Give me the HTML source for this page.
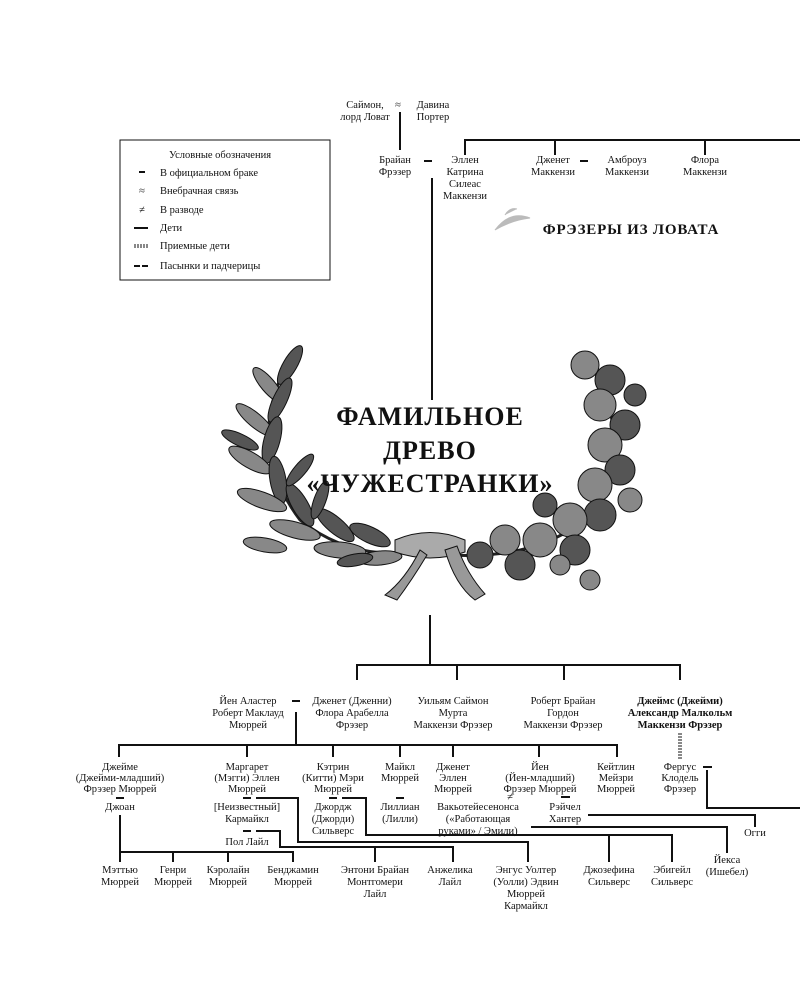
<!DOCTYPE html>
<html><head><meta charset="utf-8"><style>
html,body{margin:0;padding:0;background:#fff}
svg{display:block}
text{font-family:"Liberation Serif",serif;font-size:10.5px;fill:#111;text-anchor:middle}
.l{text-anchor:start}
.b{font-weight:bold}
.ln{stroke:#111;stroke-width:2;fill:none}
.lf{fill:#555;stroke:#111;stroke-width:1}
.lf2{fill:#888;stroke:#111;stroke-width:1}
</style></head><body>
<svg width="800" height="1000" viewBox="0 0 800 1000">
<!-- top -->
<text x="365" y="108">Саймон,</text><text x="365" y="120">лорд Ловат</text>
<text x="398" y="108">≈</text>
<text x="433" y="108">Давина</text><text x="433" y="120">Портер</text>
<path class="ln" d="M400 112V150 M465 155V140H800 M555 140V155 M705 140V155"/>
<text x="395" y="163">Брайан</text><text x="395" y="175">Фрэзер</text>
<path class="ln" d="M424 161h8"/>
<text x="465" y="163">Эллен</text><text x="465" y="175">Катрина</text><text x="465" y="187">Силеас</text><text x="465" y="199">Маккензи</text>
<text x="553" y="163">Дженет</text><text x="553" y="175">Маккензи</text>
<path class="ln" d="M580 161h8"/>
<text x="627" y="163">Амброуз</text><text x="627" y="175">Маккензи</text>
<text x="705" y="163">Флора</text><text x="705" y="175">Маккензи</text>
<text x="631" y="234" class="b" style="font-size:15px;letter-spacing:0.8px">ФРЭЗЕРЫ ИЗ ЛОВАТА</text>
<path d="M495 230q15-20 35-12q-18 2-35 12z M505 215q5-8 12-6" fill="#bbb" stroke="#bbb"/>
<!-- legend -->
<rect x="120" y="140" width="210" height="140" fill="none" stroke="#111" stroke-width="1"/>
<text x="220" y="158">Условные обозначения</text>
<path class="ln" d="M139 172h6"/><text class="l" x="160" y="176">В официальном браке</text>
<text x="142" y="194">≈</text><text class="l" x="160" y="194">Внебрачная связь</text>
<text x="142" y="213">≠</text><text class="l" x="160" y="213">В разводе</text>
<path class="ln" d="M134 228h14"/><text class="l" x="160" y="231">Дети</text>
<path d="M134 246h14" stroke="#888" stroke-width="4" stroke-dasharray="2 1"/><text class="l" x="160" y="249">Приемные дети</text>
<path class="ln" d="M134 266h6M142 266h6"/><text class="l" x="160" y="269">Пасынки и падчерицы</text>
<!-- central line -->
<path class="ln" d="M432 178V400"/>
<!-- wreath left -->
<g>
<path d="M295 350Q240 440 300 520Q350 560 415 552" stroke="#222" stroke-width="3" fill="none"/>
<ellipse class="lf" cx="290" cy="365" rx="7" ry="22" transform="rotate(30 290 365)"/>
<ellipse class="lf2" cx="268" cy="385" rx="7" ry="22" transform="rotate(-40 268 385)"/>
<ellipse class="lf" cx="280" cy="400" rx="7" ry="24" transform="rotate(25 280 400)"/>
<ellipse class="lf2" cx="255" cy="420" rx="7" ry="24" transform="rotate(-50 255 420)"/>
<ellipse class="lf" cx="272" cy="440" rx="8" ry="24" transform="rotate(15 272 440)"/>
<ellipse class="lf2" cx="250" cy="460" rx="8" ry="24" transform="rotate(-60 250 460)"/>
<ellipse class="lf" cx="278" cy="480" rx="8" ry="24" transform="rotate(-10 278 480)"/>
<ellipse class="lf2" cx="262" cy="500" rx="8" ry="26" transform="rotate(-70 262 500)"/>
<ellipse class="lf" cx="300" cy="505" rx="8" ry="24" transform="rotate(-30 300 505)"/>
<ellipse class="lf2" cx="295" cy="530" rx="8" ry="26" transform="rotate(-75 295 530)"/>
<ellipse class="lf" cx="335" cy="525" rx="8" ry="24" transform="rotate(-50 335 525)"/>
<ellipse class="lf2" cx="340" cy="550" rx="8" ry="26" transform="rotate(-85 340 550)"/>
<ellipse class="lf" cx="370" cy="535" rx="8" ry="22" transform="rotate(-65 370 535)"/>
<ellipse class="lf2" cx="380" cy="558" rx="7" ry="22" transform="rotate(-95 380 558)"/>
<ellipse class="lf" cx="300" cy="470" rx="6" ry="20" transform="rotate(40 300 470)"/>
<ellipse class="lf" cx="320" cy="500" rx="6" ry="20" transform="rotate(20 320 500)"/>
<ellipse class="lf2" cx="265" cy="545" rx="7" ry="22" transform="rotate(-80 265 545)"/>
<ellipse class="lf" cx="240" cy="440" rx="6" ry="20" transform="rotate(-65 240 440)"/>
<ellipse class="lf" cx="355" cy="560" rx="6" ry="18" transform="rotate(-100 355 560)"/>
</g>
<!-- wreath right oak -->
<g>
<path d="M585 355Q640 440 590 515Q540 560 450 555" stroke="#222" stroke-width="3" fill="none"/>
<circle class="lf2" cx="585" cy="365" r="14"/><circle class="lf" cx="610" cy="380" r="15"/>
<circle class="lf2" cx="600" cy="405" r="16"/><circle class="lf" cx="625" cy="425" r="15"/>
<circle class="lf2" cx="605" cy="445" r="17"/><circle class="lf" cx="620" cy="470" r="15"/>
<circle class="lf2" cx="595" cy="485" r="17"/><circle class="lf" cx="600" cy="515" r="16"/>
<circle class="lf2" cx="570" cy="520" r="17"/><circle class="lf" cx="575" cy="550" r="15"/>
<circle class="lf2" cx="540" cy="540" r="17"/><circle class="lf" cx="520" cy="565" r="15"/>
<circle class="lf2" cx="505" cy="540" r="15"/><circle class="lf" cx="480" cy="555" r="13"/>
<circle class="lf2" cx="560" cy="565" r="10"/>
<circle class="lf" cx="635" cy="395" r="11"/><circle class="lf2" cx="630" cy="500" r="12"/>
<circle class="lf" cx="545" cy="505" r="12"/><circle class="lf2" cx="590" cy="580" r="10"/>
</g>
<!-- ribbon -->
<path d="M395 540q35-15 70 0v12q-35 12-70 0z" fill="#aaa" stroke="#111"/>
<path d="M420 550q-15 30 -35 45l12 5q15-20 30-45z M445 550q10 35 30 50l10-6q-18-20-28-48z" fill="#999" stroke="#111"/>
<!-- title -->
<text x="430" y="425" class="b" style="font-size:26px;letter-spacing:1px">ФАМИЛЬНОЕ</text>
<text x="430" y="459" class="b" style="font-size:26px;letter-spacing:1px">ДРЕВО</text>
<text x="430" y="492" class="b" style="font-size:26px;letter-spacing:1px">«ЧУЖЕСТРАНКИ»</text>
<!-- gen 2 -->
<path class="ln" d="M430 615V665 M357 680V665H680V680 M457 665V680 M564 665V680"/>
<text x="248" y="704">Йен Аластер</text><text x="248" y="716">Роберт Маклауд</text><text x="248" y="728">Мюррей</text>
<path class="ln" d="M292 701h8"/>
<text x="352" y="704">Дженет (Дженни)</text><text x="352" y="716">Флора Арабелла</text><text x="352" y="728">Фрэзер</text>
<text x="453" y="704">Уильям Саймон</text><text x="453" y="716">Мурта</text><text x="453" y="728">Маккензи Фрэзер</text>
<text x="563" y="704">Роберт Брайан</text><text x="563" y="716">Гордон</text><text x="563" y="728">Маккензи Фрэзер</text>
<text x="680" y="704" class="b">Джеймс (Джейми)</text><text x="680" y="716" class="b">Александр Малкольм</text><text x="680" y="728" class="b">Маккензи Фрэзер</text>
<path d="M680 733V760" stroke="#888" stroke-width="4" stroke-dasharray="2 1"/>
<!-- gen 3 -->
<path class="ln" d="M296 712V745 M119 757V745H617V757 M247 745V757 M333 745V757 M400 745V757 M453 745V757 M539 745V757"/>
<text x="120" y="770">Джейме</text><text x="120" y="781">(Джейми-младший)</text><text x="120" y="792">Фрэзер Мюррей</text>
<text x="247" y="770">Маргарет</text><text x="247" y="781">(Мэгги) Эллен</text><text x="247" y="792">Мюррей</text>
<text x="333" y="770">Кэтрин</text><text x="333" y="781">(Китти) Мэри</text><text x="333" y="792">Мюррей</text>
<text x="400" y="770">Майкл</text><text x="400" y="781">Мюррей</text>
<text x="453" y="770">Дженет</text><text x="453" y="781">Эллен</text><text x="453" y="792">Мюррей</text>
<text x="540" y="770">Йен</text><text x="540" y="781">(Йен-младший)</text><text x="540" y="792">Фрэзер Мюррей</text>
<text x="616" y="770">Кейтлин</text><text x="616" y="781">Мейзри</text><text x="616" y="792">Мюррей</text>
<text x="680" y="770">Фергус</text><text x="680" y="781">Клодель</text><text x="680" y="792">Фрэзер</text>
<path class="ln" d="M703 767h9 M707 770V808H800"/>
<!-- spouses -->
<path class="ln" d="M116 798h8"/><text x="120" y="810">Джоан</text>
<path class="ln" d="M243 798h8 M256 798H298V842H528V862"/>
<text x="247" y="810">[Неизвестный]</text><text x="247" y="822">Кармайкл</text>
<path class="ln" d="M243 831h8 M256 831H280V847H453V862 M375 847V862"/>
<text x="247" y="845">Пол Лайл</text>
<path class="ln" d="M329 798h8 M342 798H366V835H672V862 M609 835V862"/>
<text x="333" y="810">Джордж</text><text x="333" y="822">(Джорди)</text><text x="333" y="834">Сильверс</text>
<path class="ln" d="M396 798h8"/>
<text x="400" y="810">Лиллиан</text><text x="400" y="822">(Лилли)</text>
<text x="510" y="800">≠</text>
<text x="478" y="810">Вакьотейесенонса</text><text x="478" y="822">(«Работающая</text><text x="478" y="834">руками» / Эмили)</text>
<path class="ln" d="M531 827H727V853"/>
<path class="ln" d="M561 797h9"/>
<text x="565" y="810">Рэйчел</text><text x="565" y="822">Хантер</text>
<path class="ln" d="M588 815H755V827"/>
<text x="755" y="836">Огги</text>
<!-- gen 4 -->
<path class="ln" d="M120 815V852H293V862 M120 852V862 M173 852V862 M228 852V862"/>
<text x="120" y="873">Мэттью</text><text x="120" y="885">Мюррей</text>
<text x="173" y="873">Генри</text><text x="173" y="885">Мюррей</text>
<text x="228" y="873">Кэролайн</text><text x="228" y="885">Мюррей</text>
<text x="293" y="873">Бенджамин</text><text x="293" y="885">Мюррей</text>
<text x="375" y="873">Энтони Брайан</text><text x="375" y="885">Монтгомери</text><text x="375" y="897">Лайл</text>
<text x="450" y="873">Анжелика</text><text x="450" y="885">Лайл</text>
<text x="526" y="873">Энгус Уолтер</text><text x="526" y="885">(Уолли) Эдвин</text><text x="526" y="897">Мюррей</text><text x="526" y="909">Кармайкл</text>
<text x="609" y="873">Джозефина</text><text x="609" y="885">Сильверс</text>
<text x="672" y="873">Эбигейл</text><text x="672" y="885">Сильверс</text>
<text x="727" y="863">Йекса</text><text x="727" y="875">(Ишебел)</text>
</svg>
</body></html>
